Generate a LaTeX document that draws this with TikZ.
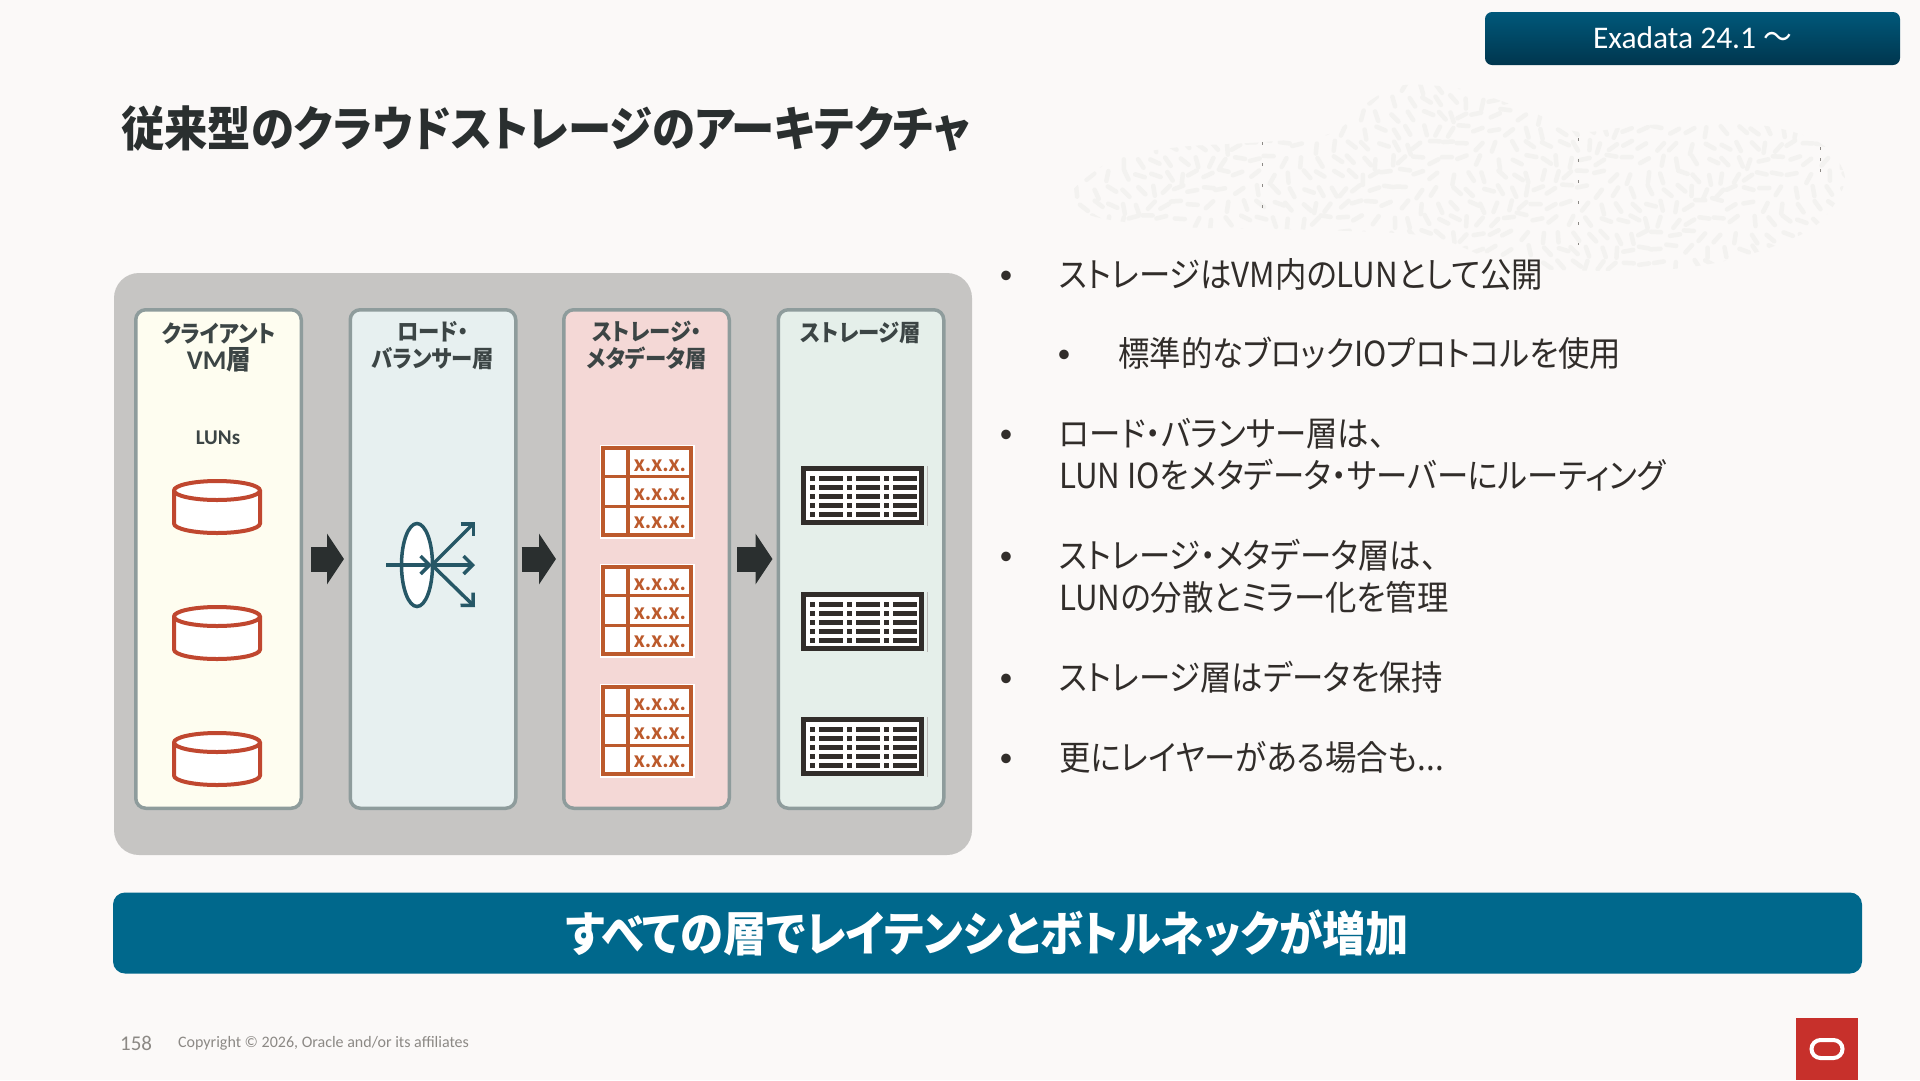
\documentclass[tikz,border=0pt]{standalone}
\usepackage{fontspec}
\setmainfont{Carlito}
\newfontfamily\jp[RawFeature=+palt,FakeStretch=0.91]{Noto Sans CJK JP}
\usetikzlibrary{arrows.meta,calc,shapes.geometric}
\definecolor{OraPaper}{HTML}{FBF9F8}
\definecolor{OraPanel}{HTML}{C6C5C3}
\definecolor{OraInk}{HTML}{312D2A}
\definecolor{OraHead}{HTML}{3C4545}
\definecolor{OraEdge}{HTML}{8E9C9C}
\definecolor{OraTeal}{HTML}{00688C}
\definecolor{OraIcon}{HTML}{265766}
\definecolor{OraRust}{HTML}{BC5A2C}
\definecolor{OraDisk}{HTML}{C0472F}
\definecolor{OraRed}{HTML}{C7302B}
\definecolor{OraArrow}{HTML}{2A2F2F}
\definecolor{OraGrey}{HTML}{8C8985}
\definecolor{OraLeaf}{HTML}{F3F2F0}
\definecolor{TagTop}{HTML}{00587A}
\definecolor{TagMid}{HTML}{005474}
\definecolor{TagLow}{HTML}{00364E}
\definecolor{CardClient}{HTML}{FEFDF0}
\definecolor{CardBalance}{HTML}{E7F0F0}
\definecolor{CardMeta}{HTML}{F4D8D6}
\definecolor{CardStore}{HTML}{E5EFEA}
\newcommand{\J}[1]{{\jp #1}}
\newcommand{\fs}[1]{\fontsize{#1}{#1}\selectfont}
\begin{document}
\begin{tikzpicture}[
    x=1pt,y=-1pt,
    card/.style={
      rounded corners=10pt,
      minimum width=165.5pt,
      minimum height=498.5pt,
      line width=3.5pt,
      inner sep=0pt,
      draw=OraEdge
    },
    cardHead/.style={
      font=\fontsize{23.5}{27}\selectfont\bfseries\jp,
      text=OraHead,
      align=center,
      inner sep=0pt
    },
    flowArrow/.style={
      -{Triangle[length=17pt,width=50pt]},
      line width=25pt,
      draw=OraArrow
    },
    bodyText/.style={
      font=\fs{34.5}\jp,
      text=OraInk,
      anchor=west,
      align=left,
      inner sep=0pt
    },
    bulletMark/.style={
      font=\fs{27},
      text=OraInk,
      inner sep=0pt,
      yshift=-3.5pt
    },
    cellText/.style={
      font=\fs{24}\bfseries,
      text=OraRust,
      inner sep=0pt
    },
    iconLine/.style={
      line width=3.5pt,
      draw=OraIcon,
      -{Straight Barb[length=9pt,width=18pt,line width=3.5pt]}
    }]

    \useasboundingbox (0,0) rectangle (1920,1080);
    \fill[OraPaper] (0,0) rectangle (1920,1080);

    % Leaf texture behind the bullets
    \begin{scope}
      \clip plot[smooth cycle] coordinates {(1068,197) (1113,160) (1180,147) (1264,142)
        (1332,133) (1371,100) (1405,85) (1466,90) (1534,113) (1579,132) (1646,125)
        (1758,125) (1820,143) (1845,180) (1814,227) (1741,257) (1657,270) (1517,267)
        (1433,237) (1320,230) (1180,227) (1096,217)};
      \pgfmathsetseed{158}
      \foreach \lx in {1060,1075,...,1850}
        \foreach \ly in {80,95,...,275} {
          \pgfmathsetmacro{\la}{80+70*sin(\lx*2+\ly*3)+50*rnd}
          \draw[OraLeaf,line width=4.5pt,line cap=round]
            ({\lx+5*rnd},{\ly+5*rnd}) -- ++(\la:10);
        }
    \end{scope}
    \draw[OraGrey,line width=0.7pt,dash pattern=on 3pt off 18pt] (1262,142) -- (1262,223);
    \draw[OraGrey,line width=0.7pt,dash pattern=on 3pt off 18pt] (1578,138) -- (1578,245);
    \draw[OraGrey,line width=0.7pt,dash pattern=on 3pt off 8pt] (1820,147) -- (1820,173);

    % Version tag and title
    \node[rounded corners=7pt,minimum width=415pt,minimum height=53pt,inner sep=0pt,
      top color=TagTop,middle color=TagMid,bottom color=TagLow,
      text=white,font=\fs{31.5}] (tag) at (1692.5,38.5) {\raisebox{2pt}{Exadata 24.1 \J{〜}}};
    \node[font=\fs{47.6}\bfseries\jp,text=OraArrow,anchor=west,inner sep=0pt] (title)
      at (121,129) {従来型のクラウドストレージのアーキテクチャ};

    % Grey panel
    \node[fill=OraPanel,rounded corners=25pt,minimum width=858pt,minimum height=582pt,
      inner sep=0pt] (panel) at (543,564) {};

    % Card 1: client VMs
    \node[card,fill=CardClient] (c1) at (218.5,559) {};
    \node[cardHead] (h1) at (219,347) {クライアント\\\fontsize{27}{27}\selectfont\rmfamily\bfseries VM\jp 層};
    \node[font=\fs{21}\bfseries,text=OraHead,inner sep=0pt] (luns) at (218,438) {LUNs};
    \foreach \ly in {479,605,731} {
      \draw[OraDisk,line width=4pt,fill=white]
        (174,\ly+11.5) -- (174,\ly+44.5) arc[start angle=180,end angle=0,x radius=43,y radius=9.5]
        -- (260,\ly+11.5) arc[start angle=0,end angle=-180,x radius=43,y radius=9.5] -- cycle;
      \draw[OraDisk,line width=4pt]
        (174,\ly+11.5) arc[start angle=180,end angle=0,x radius=43,y radius=9.5];
    }

    % Card 2: load balancer
    \node[card,fill=CardBalance] (c2) at (433,559) {};
    \node[cardHead] (h2) at (433,346) {ロード・\\バランサー層};
    \node[ellipse,draw=OraIcon,line width=3.5pt,fill=white,minimum width=31pt,
      minimum height=83pt,inner sep=0pt] (lens) at (417,565) {};
    \coordinate (lbIn) at (386,565);
    \coordinate (lbHub) at (432,565);
    \coordinate (lbUp) at (475,522);
    \coordinate (lbMid) at (475,565);
    \coordinate (lbDown) at (475,607);
    \draw[iconLine] (lbIn) -- (lbHub);
    \draw[iconLine] (lbHub) -- (lbUp);
    \draw[iconLine] (lbHub) -- (lbMid);
    \draw[iconLine] (lbHub) -- (lbDown);

    % Card 3: metadata
    \node[card,fill=CardMeta] (c3) at (646.5,559) {};
    \node[cardHead] (h3) at (647,345.5) {ストレージ・\\メタデータ層};
    \foreach \ty/\tn in {447/a,566/b,686/c} {
      \node[draw=white,line width=2pt,minimum width=93pt,minimum height=92pt,fill=white,
        inner sep=0pt] (tbl\tn) at (647,\ty+44.5) {};
      \draw[OraRust,line width=3.3pt] (603,\ty+1) rectangle (691,\ty+88)
        (628,\ty) -- (628,\ty+89)
        (602,\ty+29.7) -- (692,\ty+29.7)
        (602,\ty+59.3) -- (692,\ty+59.3);
      \node[cellText] (x\tn1) at (660,\ty+19) {x.x.x.};
      \node[cellText] (x\tn2) at (660,\ty+47.5) {x.x.x.};
      \node[cellText] (x\tn3) at (660,\ty+76) {x.x.x.};
    }

    % Card 4: storage
    \node[card,fill=CardStore] (c4) at (861,559) {};
    \node[cardHead] (h4) at (861,333) {ストレージ層};
    \foreach \sy/\sn in {466/a,592/b,717/c} {
      \node[draw=OraInk,line width=5pt,fill=white,minimum width=118pt,minimum height=54.5pt,
        inner sep=0pt] (srv\sn) at (862.5,\sy+29.5) {};
      \draw[OraGrey!60,line width=0.8pt] (927,\sy) -- (927,\sy+60);
      \foreach \rowy in {12.3,21.3,30,39,48}
        \foreach \colx in {810,847,884} {
          \fill[OraInk] (\colx,\sy+\rowy-2.5) rectangle ++(5,5);
          \fill[OraInk] (\colx+9,\sy+\rowy-2.5) rectangle ++(23.5,5);
        }
    }

    % Block arrows between the cards
    \draw[flowArrow,shorten <=8pt,shorten >=4.5pt] (c1) -- (c2);
    \draw[flowArrow,shorten <=4pt,shorten >=6pt] (c2) -- (c3);
    \draw[flowArrow,shorten <=6pt,shorten >=4pt] (c3) -- (c4);

    % Bullets
    \node[bulletMark] (b1) at (1006,274) {•};
    \node[bodyText] (t1) at (1059,274) {\J{ストレージは}VM\J{内の}LUN\J{として公開}};
    \node[bulletMark] (b2) at (1064,353) {•};
    \node[bodyText] (t2) at (1118,353) {\J{標準的なブロック}IO\J{プロトコルを使用}};
    \node[bulletMark] (b3) at (1006,433) {•};
    \node[bodyText] (t3) at (1059,454.5) {\J{ロード・バランサー層は、}\\[7.5pt]LUN IO\J{をメタデータ・サーバーにルーティング}};
    \node[bulletMark] (b4) at (1006,555) {•};
    \node[bodyText] (t4) at (1059,576.5) {\J{ストレージ・メタデータ層は、}\\[7.5pt]LUN\J{の分散とミラー化を管理}};
    \node[bulletMark] (b5) at (1006,677) {•};
    \node[bodyText] (t5) at (1059,677) {\J{ストレージ層はデータを保持}};
    \node[bulletMark] (b6) at (1006,757) {•};
    \node[bodyText] (t6) at (1059,757) {\J{更にレイヤーがある場合も}...};

    % Banner
    \node[fill=OraTeal,rounded corners=12pt,minimum width=1749pt,minimum height=81pt,
      inner sep=0pt,text=white,font=\fs{47.6}\bfseries\jp] (banner) at (987.5,933)
      {すべての層でレイテンシとボトルネックが増加};

    % Footer
    \node[font=\fs{21},text=OraGrey,anchor=west,inner sep=0pt] (page) at (120,1043) {158};
    \node[font=\fs{16},text=OraGrey,anchor=west,inner sep=0pt] (copy) at (178,1043)
      {Copyright © 2026, Oracle and/or its affiliates};
    \node[fill=OraRed,minimum width=62pt,minimum height=62pt,inner sep=0pt] (logo) at (1827,1049) {};
    \node[draw=white,line width=4pt,rounded corners=9pt,minimum width=31pt,minimum height=18pt,
      inner sep=0pt] (logoO) at (logo) {};
  \end{tikzpicture}
\end{document}
